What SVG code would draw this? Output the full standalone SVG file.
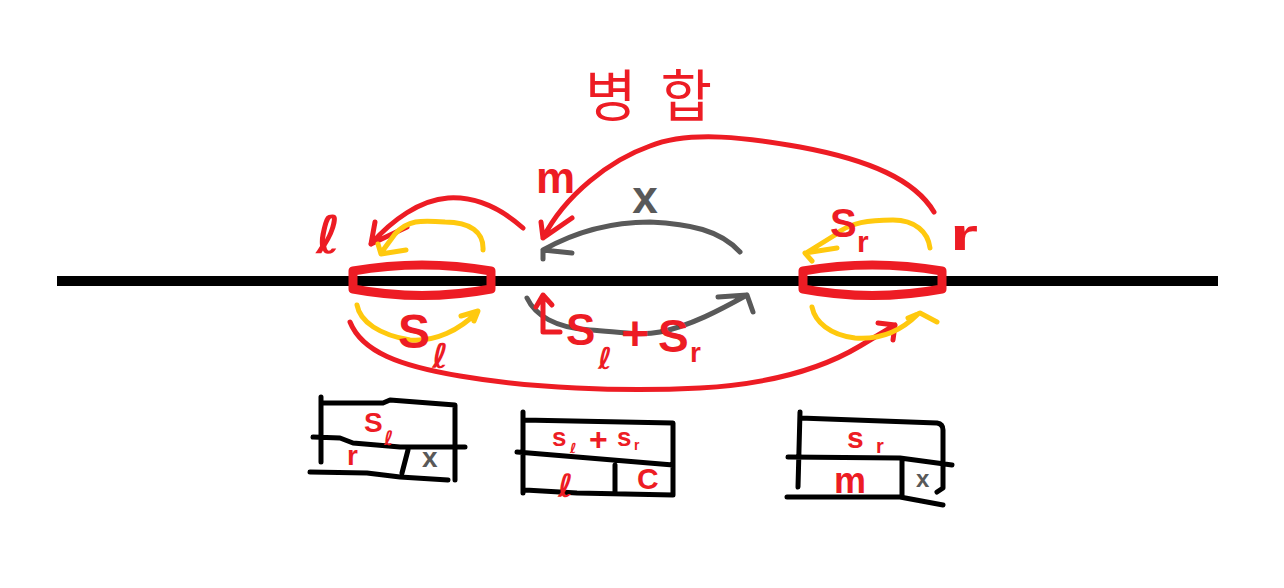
<svg xmlns="http://www.w3.org/2000/svg" width="1284" height="588" viewBox="0 0 1284 588">
<style>
.ln{fill:none;stroke-linecap:round;stroke-linejoin:round;stroke-width:5}
.red{stroke:#ED1C24}
.yel{stroke:#FFC90E}
.gry{stroke:#595959}
.blk{stroke:#000}
.cap{fill:none;stroke:#ED1C24;stroke-width:9;stroke-linejoin:round}
.t{font-family:"Liberation Sans",Arial,sans-serif;font-weight:bold;fill:#ED1C24}
.d{font-family:"DejaVu Sans",sans-serif;font-weight:bold;fill:#ED1C24}
.g{fill:#595959}
.k{font-family:"Noto Sans CJK KR","Noto Sans",sans-serif;fill:#ED1C24}
</style>
<rect width="1284" height="588" fill="#fff"/>
<line x1="57" y1="281" x2="1218" y2="281" stroke="#000" stroke-width="10"/>
<g id="node-left">
<path class="cap" d="M353,271 Q422,259 491,271 L491,289 Q422,302 353,289 Z"/>
</g>
<g id="node-right">
<path class="cap" d="M803,271 Q872,259 942,271 L942,289 Q872,302 803,289 Z"/>
</g>
<g id="connectors">
<path class="ln red" d="M523,228 C505,212 480,196 448,198 C420,200 392,220 371,244 M375,222 L371,244 L407,227"/>
<path class="ln yel" d="M483,250 C484,232 470,222 445,222 C420,220 408,220 395,234 L381,253 M378,244 L381,254 L406,250"/>
<path class="ln red" d="M934,212 C915,180 870,160 800,147 C750,138 690,130 650,146 C610,160 565,195 543,238 M541,222 L543,238 L572,218"/>
<path class="ln gry" d="M740,252 C720,230 690,224 650,222 C610,222 575,232 543,250 M543,259 L543,250 L572,253"/>
<path class="ln gry" d="M527,298 C535,315 555,328 590,330 C620,332 640,336 660,332 C690,326 720,310 747,295 M718,297 L747,295 L753,312"/>
<path class="ln red" d="M560,332 L543,332 L543,296 M536,307 L543,295 L552,305"/>
<path class="ln yel" d="M357,305 C360,322 380,335 410,340 C435,342 460,330 477,312 M461,316 L478,311 L474,321"/>
<path class="ln red" d="M350,322 C362,352 400,366 460,376 C530,388 620,392 700,388 C770,384 820,370 860,346 L895,325 M878,323 L895,325 L893,340"/>
<path class="ln yel" d="M812,307 C815,322 830,335 855,338 C880,340 900,332 918,314 M908,318 L920,313 L937,322"/>
<path class="ln yel" d="M930,248 C928,232 915,220 893,220 C870,220 850,222 835,235 L806,253 M812,261 L805,253 L837,248"/>
</g>
<g id="labels">
<text class="k" x="585" y="116" font-size="56" letter-spacing="24">병합</text>
<text class="t" x="536" y="193" font-size="44">m</text>
<text class="t g" x="645" y="213" font-size="46" text-anchor="middle">x</text>
<text class="d" x="316" y="253" font-size="52">ℓ</text>
<text class="t" x="950" y="250" font-size="44" textLength="28" lengthAdjust="spacingAndGlyphs">r</text>
<text class="t" x="830" y="237" font-size="40">S</text>
<text class="t" x="857" y="252" font-size="30">r</text>
<text class="t" x="398" y="348" font-size="48">S</text>
<text class="d" x="432" y="368" font-size="34">ℓ</text>
<text class="t" x="566" y="345" font-size="44">S</text>
<text class="d" x="598" y="369" font-size="30">ℓ</text>
<text class="t" x="621" y="350" font-size="48">+</text>
<text class="t" x="658" y="352" font-size="46">S</text>
<text class="t" x="690" y="362" font-size="28">r</text>
</g>
<g id="table-left">
<path class="ln blk" d="M321,397 L321,462 M321,403 L383,403 L390,400 L455,405 L455,480 M313,437 L340,438 L353,443 L400,447 L465,447 M408,450 L402,473 M310,472 L367,473 L400,477 L448,480"/>
<text class="t" x="364" y="432" font-size="28">S</text>
<text class="d" x="384" y="445" font-size="20">ℓ</text>
<text class="t" x="347" y="465" font-size="28">r</text>
<text class="t g" x="422" y="467" font-size="28">x</text>
</g>
<g id="table-middle">
<path class="ln blk" d="M523,412 L523,493 M523,420 L673,423 L673,495 M517,452 L577,457 L673,465 M615,465 L615,492 M525,490 L577,493 L673,495"/>
<text class="t" x="552" y="446" font-size="26">s</text>
<text class="d" x="570" y="453" font-size="14">ℓ</text>
<text class="t" x="589" y="450" font-size="32">+</text>
<text class="t" x="617" y="446" font-size="26">s</text>
<text class="t" x="634" y="450" font-size="14">r</text>
<text class="d" x="558" y="497" font-size="32">ℓ</text>
<text class="t" x="637" y="489" font-size="30">C</text>
</g>
<g id="table-right">
<path class="ln blk" d="M800,412 L798,487 M800,418 L937,423 Q943,424 943,430 L943,488 L937,492 M788,457 L900,458 L952,465 M902,460 L902,495 M787,497 L900,497 L943,505"/>
<text class="t" x="847" y="448" font-size="30">s</text>
<text class="t" x="876" y="453" font-size="20">r</text>
<text class="t" x="834" y="493" font-size="36">m</text>
<text class="t g" x="916" y="487" font-size="24">x</text>
</g>
</svg>
